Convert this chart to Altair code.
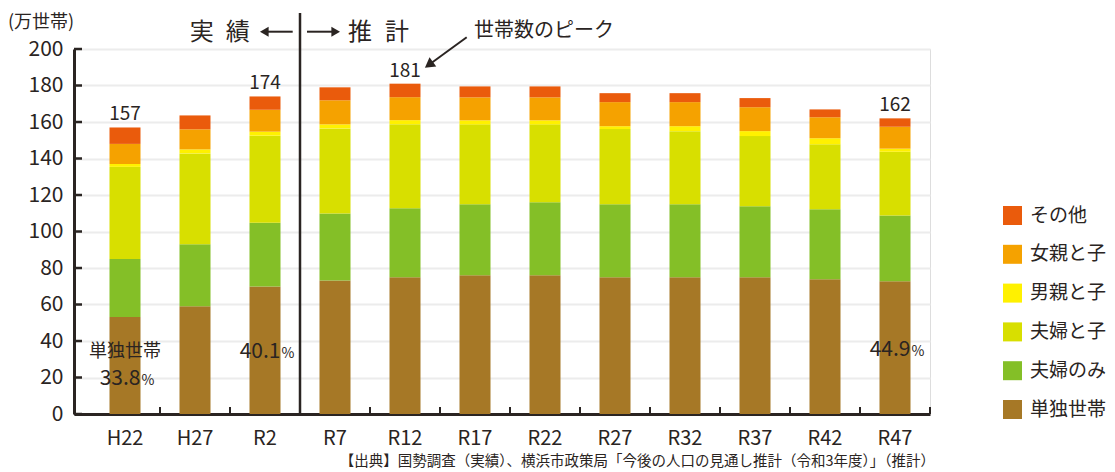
import altair as alt
import pandas as pd

# ---------------- data ----------------
cats = ["H22", "H27", "R2", "R7", "R12", "R17", "R22", "R27", "R32", "R37", "R42", "R47"]
series = ["その他", "女親と子", "男親と子", "夫婦と子", "夫婦のみ", "単独世帯"]
colors = ["#EA5B0C", "#F5A200", "#FFF100", "#D8DF00", "#84BF27", "#A67826"]

tandoku   = [53.1, 59.0, 69.8, 73.2, 75.0, 76.0, 76.0, 75.0, 75.0, 75.0, 73.8, 72.7]
fufu_nomi = [31.8, 34.0, 35.0, 36.7, 37.8, 38.9, 40.0, 40.0, 40.0, 38.9, 38.4, 36.0]
fufu_ko   = [50.5, 49.8, 47.7, 46.6, 46.0, 43.8, 42.7, 41.1, 40.0, 38.4, 35.6, 35.0]
chichi_ko = [1.6, 2.2, 2.2, 2.2, 2.2, 2.2, 2.2, 1.6, 2.7, 2.7, 3.3, 1.7]
haha_ko   = [11.0, 11.0, 12.0, 13.2, 12.6, 12.6, 12.6, 13.2, 13.2, 13.1, 11.5, 12.0]
sonota    = [9.0, 7.6, 7.3, 7.1, 7.4, 6.0, 6.0, 4.9, 4.9, 5.0, 4.3, 4.6]

total_cats = ["H22", "R2", "R12", "R47"]
total_vals = [157, 174, 181, 162]

share_cats = ["H22", "R2", "R47"]
share_vals = ["33.8", "40.1", "44.9"]
share_at = [20, 35, 36]          # data-unit height where each share label sits

y_ticks = [0, 20, 40, 60, 80, 100, 120, 140, 160, 180, 200]

# ---------------- tables ----------------
stack_vals = {
    "単独世帯": tandoku, "夫婦のみ": fufu_nomi, "夫婦と子": fufu_ko,
    "男親と子": chichi_ko, "女親と子": haha_ko, "その他": sonota,
}
bottom_first = ["単独世帯", "夫婦のみ", "夫婦と子", "男親と子", "女親と子", "その他"]
rows = []
for k, s in enumerate(bottom_first):
    for c, v in zip(cats, stack_vals[s]):
        rows.append({"cat": c, "series": s, "value": v, "ord": k})
df = pd.DataFrame(rows)
df_tot = pd.DataFrame({"cat": total_cats, "total": total_vals})
df_share = pd.DataFrame({"cat": share_cats, "num": share_vals, "yv": share_at})
df_yt = pd.DataFrame({"v": y_ticks})
df_xt = pd.DataFrame({"cat": [c for c in cats[1:] if c != "R7"]})
df_end = pd.DataFrame({"cat": [cats[-1]]})
df_div = pd.DataFrame({"cat": ["R7"]})
one = pd.DataFrame({"a": [0]})

FONT = "Noto Sans CJK JP"
INK = "#2a2422"

xscale = alt.Scale(domain=cats, paddingInner=0, paddingOuter=8 / 70, align=1)
xaxis = alt.Axis(title=None, labelAngle=0, ticks=False, domainWidth=3, domainColor=INK,
                 labelFont=FONT, labelFontSize=20, labelColor=INK, labelPadding=14, grid=False)
yscale = alt.Scale(domain=[0, 200], nice=False)
yaxis = alt.Axis(title=None, values=y_ticks, ticks=False, domainWidth=3, domainColor=INK,
                 labelFont=FONT, labelFontSize=21, labelColor=INK, labelPadding=11,
                 grid=True, gridColor="#ececec", gridWidth=2)


def X(field="cat:N", **kw):
    return alt.X(field, sort=cats, scale=xscale, axis=xaxis, **kw)


def Y(field, **kw):
    return alt.Y(field, scale=yscale, axis=yaxis, **kw)


bars = alt.Chart(df).mark_bar(width=31).encode(
    x=X(),
    y=Y("value:Q", stack="zero"),
    color=alt.Color("series:N", scale=alt.Scale(domain=series, range=colors),
                    legend=alt.Legend(orient="none", legendX=929, legendY=157, title=None,
                                      symbolType="square", symbolSize=361, symbolStrokeWidth=0,
                                      symbolOpacity=1, labelFont=FONT, labelFontSize=19,
                                      labelColor=INK, labelOffset=8, rowPadding=18.8, padding=0)),
    order=alt.Order("ord:Q", sort="ascending"),
)

ytick_rules = alt.Chart(df_yt).mark_rule(color=INK, strokeWidth=2.5).encode(
    y=Y("v:Q"), x=alt.value(0), x2=alt.value(8))

xtick_rules = alt.Chart(df_xt).mark_rule(color=INK, strokeWidth=2).encode(
    x=X(bandPosition=0), y=alt.value(358), y2=alt.value(365))
xtick_end = alt.Chart(df_end).mark_rule(color=INK, strokeWidth=2).encode(
    x=X(bandPosition=1), y=alt.value(358), y2=alt.value(365))

divider = alt.Chart(df_div).mark_rule(color=INK, strokeWidth=2.5).encode(
    x=X(bandPosition=0), y=alt.value(-36), y2=alt.value(365))

tot_text = alt.Chart(df_tot).mark_text(font=FONT, fontSize=19, color=INK, baseline="bottom", dy=-3).encode(
    x=X(), y=Y("total:Q"), text="total:Q")

share_num = alt.Chart(df_share).mark_text(font=FONT, fontSize=21, color=INK, align="right",
                                          baseline="alphabetic", dx=15.5, dy=7.5).encode(
    x=X(), y=Y("yv:Q"), text="num:N")
share_pct = alt.Chart(df_share).mark_text(font=FONT, fontSize=14, color=INK, align="left",
                                          baseline="alphabetic", dx=16.5, dy=7.5).encode(
    x=X(), y=Y("yv:Q"), text=alt.value("%"))
single_lbl = alt.Chart(pd.DataFrame({"cat": ["H22"], "yv": [34]})).mark_text(
    font=FONT, fontSize=18, color=INK, baseline="middle").encode(
    x=X(), y=Y("yv:Q"), text=alt.value("単独世帯"))


def txt(s, x, y, size, align="center", baseline="middle"):
    return alt.Chart(one).mark_text(font=FONT, fontSize=size, color=INK, align=align,
                                    baseline=baseline).encode(
        x=alt.value(x), y=alt.value(y), text=alt.value(s))


def seg(x1, y1, x2, y2, w=2):
    return alt.Chart(one).mark_rule(color=INK, strokeWidth=w).encode(
        x=alt.value(x1), y=alt.value(y1), x2=alt.value(x2), y2=alt.value(y2))


def head(shape, x, y, size=100, angle=0):
    return alt.Chart(one).mark_point(shape=shape, filled=True, size=size, color=INK,
                                     opacity=1, strokeWidth=0, angle=angle).encode(
        x=alt.value(x), y=alt.value(y))


unit_lbl = txt("(万世帯)", -66, -26, 18, align="left")
h_ji = txt("実", 127.7, -16.5, 24)
h_seki = txt("績", 163.8, -16.5, 24)
h_sui = txt("推", 286, -16.5, 24)
h_kei = txt("計", 323, -16.5, 24)
l_line = seg(190, -17.3, 218.7, -17.3)
l_head = head("triangle-left", 190.3, -17.3)
r_line = seg(233, -17.3, 262, -17.3)
r_head = head("triangle-right", 261.7, -17.3)
peak_lbl = txt("世帯数のピーク", 400, -18, 20, align="left")
p_line = seg(392.7, -11.7, 356, 15)
p_head = head("triangle-up", 354.9, 15.8, size=130, angle=234)
source = txt("【出典】国勢調査（実績）、横浜市政策局「今後の人口の見通し推計（令和3年度）」（推計）",
             861, 413, 14.5, align="right")

chart = alt.layer(
    bars, ytick_rules, xtick_rules, xtick_end, divider, tot_text,
    share_num, share_pct, single_lbl,
    unit_lbl, h_ji, h_seki, h_sui, h_kei, l_line, l_head, r_line, r_head,
    peak_lbl, p_line, p_head, source,
).properties(
    width=856, height=365,
    autosize=alt.AutoSizeParams(type="none"),
    padding={"left": 66, "top": 41, "right": 177, "bottom": 56},
).configure_view(stroke=None).configure(background="white")

chart.save("out.html", embed_options={"renderer": "svg", "actions": False})
